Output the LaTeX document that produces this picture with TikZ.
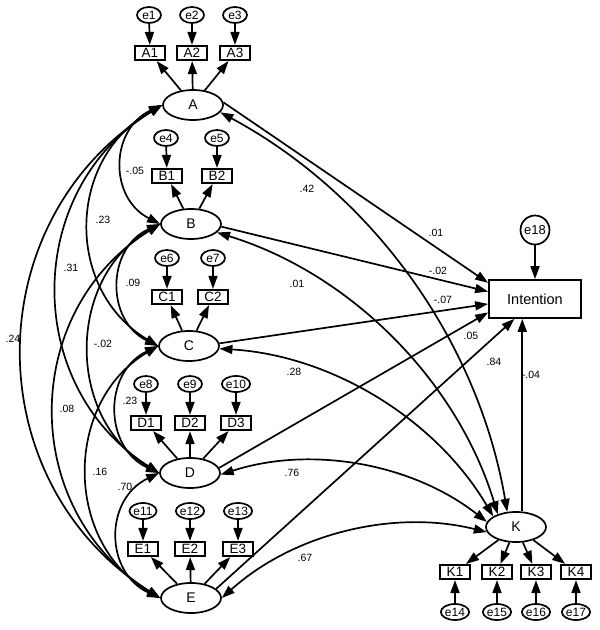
\documentclass[tikz,border=0pt]{standalone}
\usepackage{fontspec}
\setmainfont{Liberation Sans}
\usetikzlibrary{shapes.geometric,arrows.meta}

\begin{document}
\begin{tikzpicture}[
    x=1pt, y=1pt,
    latent/.style={ellipse, draw=black, line width=1.7pt, fill=white,
        minimum width=60pt, minimum height=30pt, inner sep=0pt,
        font=\fontsize{14}{16}\selectfont},
    item/.style={rectangle, draw=black, line width=1.7pt, fill=white,
        minimum width=30pt, minimum height=14.5pt, inner sep=0pt,
        font=\fontsize{13.5}{15}\selectfont},
    err/.style={ellipse, draw=black, line width=1.7pt, fill=white,
        minimum width=24pt, minimum height=16pt, inner sep=0pt,
        font=\fontsize{12}{13}\selectfont},
    resid/.style={circle, draw=black, line width=1.7pt, fill=white,
        minimum size=29pt, inner sep=0pt, font=\fontsize{13}{15}\selectfont},
    outcome/.style={rectangle, draw=black, line width=1.7pt, fill=white,
        minimum width=92pt, minimum height=38pt, inner sep=0pt,
        font=\fontsize{14.5}{17}\selectfont},
    coef/.style={inner sep=0pt, font=\fontsize{10.5}{12}\selectfont},
    loading/.style={line width=1.7pt, -{Triangle[length=13pt,width=9pt]}},
    covar/.style={line width=1.7pt,
        {Triangle[length=13pt,width=9pt]}-{Triangle[length=13pt,width=9pt]}}
]
    \useasboundingbox (0,0) rectangle (600,-630);

    \node[latent] (A) at (193,-105) {A};
    \node[latent] (B) at (191,-224) {B};
    \node[latent] (C) at (189,-346) {C};
    \node[latent] (D) at (190,-473) {D};
    \node[latent] (E) at (191,-598) {E};
    \node[latent] (K) at (516,-527) {K};
    \node[outcome] (Int) at (535,-299) {Intention};
    \node[resid] (e18) at (535,-230) {e18};

    \node[item] (A1) at (150,-53) {A1};
    \node[item] (A2) at (192,-53) {A2};
    \node[item] (A3) at (235,-53) {A3};
    \node[err] (e1) at (149,-15) {e1};
    \node[err] (e2) at (192,-15) {e2};
    \node[err] (e3) at (235,-15) {e3};

    \node[item] (B1) at (167,-176) {B1};
    \node[item] (B2) at (217,-176) {B2};
    \node[err] (e4) at (166,-138) {e4};
    \node[err] (e5) at (217,-138) {e5};

    \node[item] (C1) at (167,-297) {C1};
    \node[item] (C2) at (213,-297) {C2};
    \node[err] (e6) at (167,-258) {e6};
    \node[err] (e7) at (213,-258) {e7};

    \node[item] (D1) at (146,-423) {D1};
    \node[item] (D2) at (190,-423) {D2};
    \node[item] (D3) at (236,-423) {D3};
    \node[err] (e8) at (146,-384) {e8};
    \node[err] (e9) at (190,-384) {e9};
    \node[err] (e10) at (236,-384) {e10};

    \node[item] (E1) at (143,-549) {E1};
    \node[item] (E2) at (190,-549) {E2};
    \node[item] (E3) at (238,-549) {E3};
    \node[err] (e11) at (143,-511) {e11};
    \node[err] (e12) at (190,-511) {e12};
    \node[err] (e13) at (238,-511) {e13};

    \node[item] (K1) at (455,-572) {K1};
    \node[item] (K2) at (497,-572) {K2};
    \node[item] (K3) at (536,-572) {K3};
    \node[item] (K4) at (576,-572) {K4};
    \node[err] (e14) at (455,-612) {e14};
    \node[err] (e15) at (497,-612) {e15};
    \node[err] (e16) at (536,-612) {e16};
    \node[err] (e17) at (576,-612) {e17};

    \draw[loading] (A) -- (A1);
    \draw[loading] (A) -- (A2);
    \draw[loading] (A) -- (A3);
    \draw[loading] (e1) -- (A1);
    \draw[loading] (e2) -- (A2);
    \draw[loading] (e3) -- (A3);
    \draw[loading] (B) -- (B1);
    \draw[loading] (B) -- (B2);
    \draw[loading] (e4) -- (B1);
    \draw[loading] (e5) -- (B2);
    \draw[loading] (C) -- (C1);
    \draw[loading] (C) -- (C2);
    \draw[loading] (e6) -- (C1);
    \draw[loading] (e7) -- (C2);
    \draw[loading] (D) -- (D1);
    \draw[loading] (D) -- (D2);
    \draw[loading] (D) -- (D3);
    \draw[loading] (e8) -- (D1);
    \draw[loading] (e9) -- (D2);
    \draw[loading] (e10) -- (D3);
    \draw[loading] (E) -- (E1);
    \draw[loading] (E) -- (E2);
    \draw[loading] (E) -- (E3);
    \draw[loading] (e11) -- (E1);
    \draw[loading] (e12) -- (E2);
    \draw[loading] (e13) -- (E3);
    \draw[loading] (K) -- (K1);
    \draw[loading] (K) -- (K2);
    \draw[loading] (K) -- (K3);
    \draw[loading] (K) -- (K4);
    \draw[loading] (e14) -- (K1);
    \draw[loading] (e15) -- (K2);
    \draw[loading] (e16) -- (K3);
    \draw[loading] (e17) -- (K4);

    \draw[covar] (A.west) to[bend right=64, looseness=1.24] (B.west);
    \draw[covar] (A.west) to[bend right=60, looseness=1.16] (C.west);
    \draw[covar] (A.west) to[bend right=58, looseness=1.13] (D.west);
    \draw[covar] (A.west) to[bend right=58, looseness=1.13] (E.west);
    \draw[covar] (B.west) to[bend right=65, looseness=1.23] (C.west);
    \draw[covar] (B.west) to[bend right=60, looseness=1.11] (D.west);
    \draw[covar] (B.west) to[bend right=58, looseness=1.14] (E.west);
    \draw[covar] (C.west) to[bend right=65, looseness=1.23] (D.west);
    \draw[covar] (C.west) to[bend right=60, looseness=1.12] (E.west);
    \draw[covar] (D.west) to[bend right=65, looseness=1.25] (E.west);

    \draw[covar] (A.-15) to[bend left=26, looseness=0.9] (K.120);
    \draw[covar] (B.-18) to[bend left=28, looseness=0.9] (K.145);
    \draw[covar] (C.-5) to[bend left=28, looseness=0.9] (K.155);
    \draw[covar] (D.-3) to[bend left=28, looseness=0.9] (K.170);
    \draw[covar] (E.0) to[bend left=28, looseness=0.9] (K.190);

    \draw[loading] (A.5) -- (Int.161);
    \draw[loading] (B.-5) -- (Int.171);
    \draw[loading] (C.5) -- (Int.186);
    \draw[loading] (D.10) -- (Int.196);
    \draw[loading] (E.20) -- (Int.224);
    \draw[loading] (K.68) -- (K.68 |- Int.south);
    \draw[loading] (e18) -- (Int);

    \node[coef] (rAB) at (135,-171) {-.05};
    \node[coef] (rAC) at (103,-220) {.23};
    \node[coef] (rAD) at (71,-268) {.31};
    \node[coef] (rAE) at (13,-339) {.24};
    \node[coef] (rAK) at (307,-189) {.42};
    \node[coef] (rBC) at (133,-283) {.09};
    \node[coef] (rBD) at (103,-344) {-.02};
    \node[coef] (rBE) at (67,-409) {.08};
    \node[coef] (rBK) at (297,-284) {.01};
    \node[coef] (rCD) at (130,-401) {.23};
    \node[coef] (rCE) at (100,-472) {.16};
    \node[coef] (rCK) at (294,-372) {.28};
    \node[coef] (rDE) at (125,-487) {.70};
    \node[coef] (rDK) at (292,-473) {.76};
    \node[coef] (rEK) at (305,-558) {.67};
    \node[coef] (bA) at (436,-233) {.01};
    \node[coef] (bB) at (438,-271) {-.02};
    \node[coef] (bC) at (443,-300) {-.07};
    \node[coef] (bD) at (471,-336) {.05};
    \node[coef] (bE) at (494,-362) {.84};
    \node[coef] (bK) at (531,-375) {-.04};
\end{tikzpicture}
\end{document}
